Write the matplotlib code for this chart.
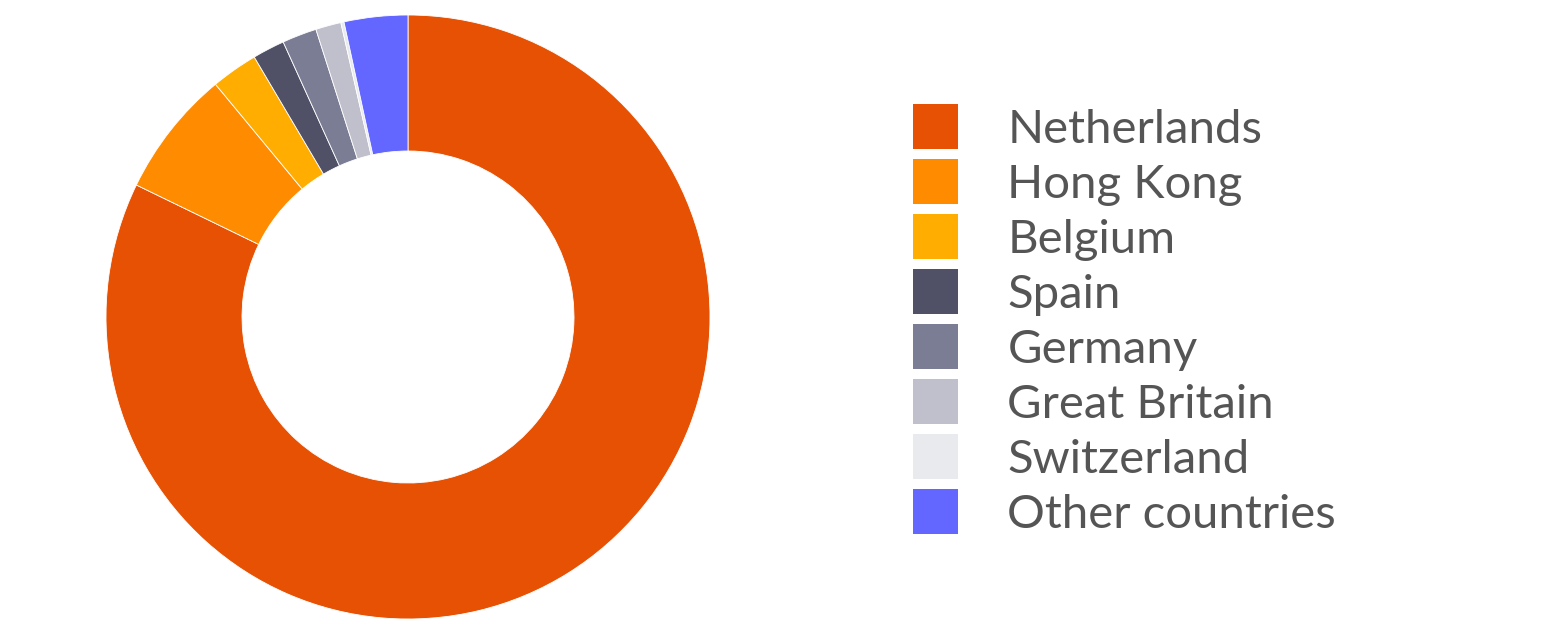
import matplotlib.pyplot as plt

# shares by country (percent)
countries = ['Netherlands', 'Hong Kong', 'Belgium', 'Spain', 'Germany',
             'Great Britain', 'Switzerland', 'Other countries']
shares = [82.2, 6.8, 2.5, 1.72, 1.85, 1.36, 0.17, 3.4]
colors = ['#E65104', '#FF8C00', '#FFAD00', '#505066', '#7B7D95',
          '#C0C0CC', '#E9EAEE', '#6366FF']

W, H = 1544, 632
fig = plt.figure(figsize=(W / 100, H / 100), dpi=100)

# donut: centre (408, 317), outer radius 302 px
cx, cy, r = 408, 317, 302
ax = fig.add_axes([(cx - r) / W, (H - cy - r) / H, 2 * r / W, 2 * r / H])
wedges, _ = ax.pie(shares, colors=colors, startangle=90, counterclock=False,
                   radius=1, wedgeprops=dict(width=136 / 302, edgecolor='white', linewidth=0.6))
ax.set_xlim(-1, 1)
ax.set_ylim(-1, 1)
ax.set_aspect('equal')
ax.axis('off')

leg = fig.legend(wedges, countries, loc='upper left',
                 bbox_to_anchor=(913 / W, 1 - 104 / H),
                 frameon=False, handlelength=0.95, handleheight=1.1,
                 handletextpad=1.05, labelspacing=0.175, borderpad=0, borderaxespad=0,
                 prop={'family': 'Lato', 'size': 34})
for t in leg.get_texts():
    t.set_color('#555555')
for h in leg.legend_handles:
    h.set_linewidth(0)

fig.savefig('out.png', dpi=100)
